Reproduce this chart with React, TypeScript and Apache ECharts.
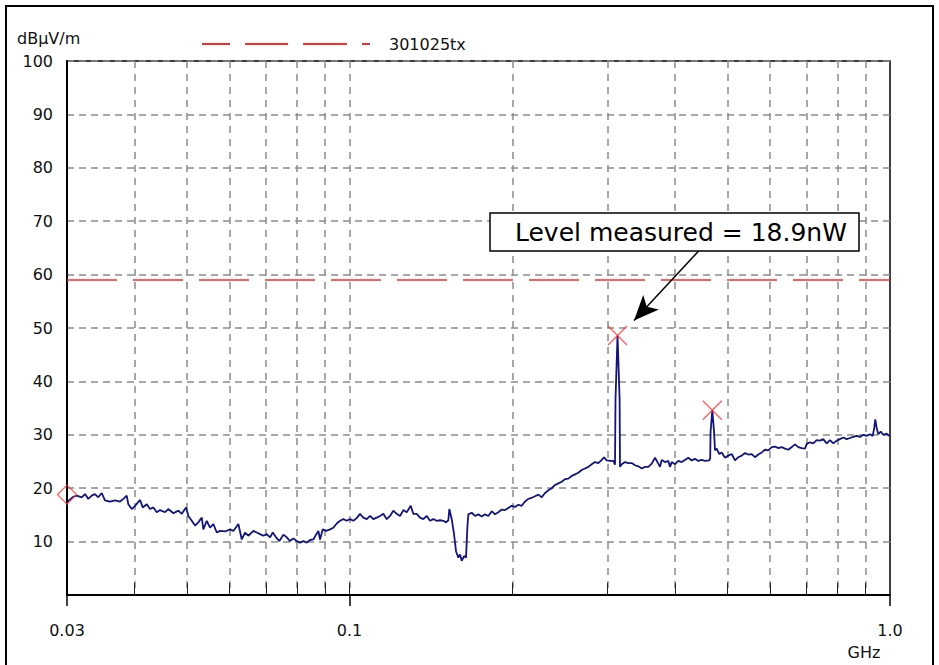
import React, { useEffect, useRef } from "react";
import * as echarts from "echarts";

// ---- data (frequency in GHz, level in dBµV/m) ----
const segAFreqs = [
  0.0300, 0.03082, 0.03127, 0.03194, 0.03239, 0.03285, 0.03333, 0.03380, 0.03428, 0.03478,
  0.03527, 0.03603, 0.03681, 0.03760, 0.03814, 0.03869, 0.03896, 0.03953, 0.04009, 0.04095,
  0.04143, 0.04214, 0.04274, 0.04334, 0.04397, 0.04460, 0.04556, 0.04620, 0.04720, 0.04821,
  0.04892, 0.04982, 0.05031, 0.05105, 0.05177, 0.05250, 0.05327, 0.05363, 0.05442, 0.05519,
  0.05597, 0.05679, 0.05759, 0.05883, 0.06010, 0.06095, 0.06226, 0.06317, 0.06406, 0.06497,
  0.06637, 0.06734, 0.06829, 0.06926, 0.07027, 0.07127, 0.07209, 0.07311, 0.07415, 0.07542,
  0.07652, 0.07760, 0.07870, 0.07985, 0.08098, 0.08213, 0.08333, 0.08450, 0.08570, 0.08669,
  0.08755, 0.08818, 0.08920, 0.09046, 0.09202, 0.09332, 0.09468, 0.09602, 0.09738, 0.09880,
];
const segALevels = [
  17.4, 18.4, 18.6, 18.3, 18.9, 18.0, 18.6, 18.9, 18.3, 19.1,
  17.7, 17.5, 17.7, 17.5, 18.0, 18.6, 17.0, 16.1, 16.7, 17.8,
  16.4, 17.0, 16.1, 16.4, 15.5, 15.9, 15.5, 16.1, 15.3, 15.8,
  15.2, 16.4, 14.8, 13.9, 13.0, 13.6, 14.5, 12.3, 13.9, 12.6,
  13.3, 11.7, 12.0, 11.9, 12.3, 12.0, 13.3, 10.4, 11.7, 11.1,
  12.0, 11.7, 11.4, 11.1, 11.4, 10.8, 11.7, 10.8, 10.1, 11.3,
  10.8, 10.1, 10.6, 10.1, 9.8, 10.1, 9.8, 10.3, 10.4, 11.3,
  12.0, 10.4, 12.3, 12.0, 12.3, 12.6, 13.4, 13.9, 14.2, 13.9,
];

const segBFreqs = [
  0.10020, 0.10162, 0.10310, 0.10456, 0.10604, 0.10759, 0.10911, 0.11065, 0.11227, 0.11386,
  0.11547, 0.11716, 0.11881, 0.12049, 0.12225, 0.12398, 0.12574, 0.12757, 0.12976, 0.13121,
  0.13312, 0.13501, 0.13692, 0.13892, 0.14089, 0.14288, 0.14497, 0.14702, 0.14910, 0.15082,
  0.15231, 0.15296, 0.15454, 0.15606, 0.15739, 0.15894, 0.16010, 0.16126, 0.16285, 0.16424,
  0.16516,
];
const segBLevels = [
  14.2, 13.9, 14.4, 15.2, 14.5, 14.2, 14.8, 14.2, 14.5, 14.8,
  15.2, 14.2, 14.8, 15.8, 15.2, 14.8, 15.9, 15.5, 16.7, 15.2,
  15.2, 14.5, 14.2, 14.8, 13.9, 14.2, 13.9, 14.0, 13.9, 13.6,
  14.0, 16.1, 14.2, 11.4, 8.2, 7.0, 7.6, 6.4, 7.3, 7.0,
  12.6,
];

const segCFreqs = [
  0.16586, 0.16828, 0.17066, 0.17307, 0.17560, 0.17809, 0.18061, 0.18324, 0.18584, 0.18847,
  0.19122, 0.19393, 0.19667, 0.19955, 0.20237, 0.20523, 0.20823, 0.21118, 0.21416, 0.21729,
  0.22037, 0.22349, 0.22675, 0.22996, 0.23321, 0.23662, 0.23997, 0.24336, 0.24692, 0.25041,
  0.25395, 0.25766, 0.26131, 0.26501, 0.26888, 0.27268, 0.27654, 0.28058, 0.28455, 0.28858,
  0.29279, 0.29569, 0.29910, 0.30334, 0.30764, 0.30987, 0.31050, 0.31319, 0.31600, 0.31650,
  0.31885, 0.32336, 0.32795, 0.33273, 0.33744, 0.34222, 0.34722, 0.35213, 0.35711, 0.36233,
  0.36745, 0.37264, 0.37535, 0.37808, 0.38344, 0.38886, 0.39169,
];
const segCLevels = [
  15.1, 15.4, 14.8, 15.1, 14.7, 15.1, 14.8, 15.7, 15.1, 15.5,
  16.0, 15.9, 16.3, 16.7, 16.5, 16.9, 16.7, 17.5, 18.0, 18.2,
  18.5, 18.8, 18.3, 19.1, 19.6, 20.0, 20.6, 20.9, 21.2, 21.7,
  21.8, 22.3, 22.6, 22.9, 23.4, 23.7, 24.0, 24.5, 24.9, 24.7,
  25.3, 25.8, 25.2, 25.1, 25.1, 24.4, 36.6, 48.6, 36.6, 24.0,
  24.5, 24.9, 24.7, 24.7, 24.3, 24.1, 23.7, 24.0, 24.0, 24.6,
  25.7, 24.6, 24.0, 25.3, 24.9, 25.1, 24.0,
];

const segDFreqs = [
  0.39454, 0.40012, 0.40577, 0.41170, 0.41753, 0.42344, 0.42962, 0.43570, 0.44187, 0.44831,
  0.45466, 0.46306, 0.46480, 0.46560, 0.46902, 0.47250, 0.47445, 0.47790, 0.48322, 0.48819,
  0.49508, 0.50209, 0.50942, 0.51664, 0.52395, 0.53159, 0.53913, 0.54676, 0.55474, 0.56259,
  0.57055, 0.57889, 0.58708, 0.59539, 0.60409, 0.61263, 0.62130, 0.63038, 0.63930, 0.64835,
  0.65781, 0.66712, 0.67656, 0.68644, 0.69615, 0.70120, 0.71113, 0.72119, 0.73171, 0.74207,
  0.75257, 0.76355, 0.77435, 0.78532, 0.79677, 0.80805, 0.81949, 0.83145, 0.84322, 0.85515,
  0.86763, 0.87992, 0.89238, 0.90540, 0.91822, 0.92884, 0.93519, 0.93918, 0.94480, 0.95128,
  0.96106, 0.97176, 0.98594, 0.99693, 1.0,
];
const segDLevels = [
  24.9, 24.5, 25.1, 24.9, 25.3, 25.7, 25.2, 25.5, 25.1, 25.3,
  25.1, 25.2, 25.6, 30.6, 34.6, 30.6, 27.1, 27.4, 26.4, 26.7,
  25.7, 26.1, 26.4, 25.2, 25.8, 26.1, 26.6, 26.3, 26.4, 25.8,
  26.3, 26.7, 27.2, 27.1, 27.7, 27.8, 27.5, 27.7, 27.4, 27.2,
  27.7, 28.2, 27.7, 27.5, 27.4, 28.3, 28.6, 28.4, 29.0, 28.9,
  29.2, 28.4, 29.0, 28.4, 28.9, 29.2, 29.5, 29.2, 29.4, 29.6,
  29.8, 29.6, 30.0, 29.8, 30.1, 29.8, 31.3, 32.9, 31.3, 30.1,
  30.6, 30.0, 30.2, 29.8, 30.0,
];

const limitName = "301025tx";
const limitFreqs = [0.03, 1.0];
const limitLevels = [59, 59];

const peakFreqs = [0.31319, 0.46902];
const peakLevels = [48.6, 34.6];

const startMarkerFreq = 0.03;
const startMarkerLevel = 18.8;

const arrowFrom = [0.4451, 64.7];
const arrowTo = [0.336, 51.4];

const annotationText = "Level measured = 18.9nW";
const yUnit = "dBµV/m";
const xUnit = "GHz";

const minorTickFreqs = [0.04, 0.05, 0.06, 0.07, 0.08, 0.09, 0.1, 0.2, 0.3, 0.4, 0.5, 0.6, 0.7, 0.8, 0.9];
const majorTickFreqs = [0.03, 0.1, 1.0];
const majorTickLabels = ["0.03", "0.1", "1.0"];

const FONT = "'DejaVu Sans', sans-serif";
// legend sample: a dashed red line drawn as a filled path (168 x 2)
const LEGEND_ICON = "path://M0,0H28V2H0Z M43,0H86V2H43Z M101,0H145V2H101Z M160,0H168V2H160Z";

function zip(a: number[], b: number[]) {
  const n = Math.min(a.length, b.length);
  const out: number[][] = [];
  for (let i = 0; i < n; i++) out.push([a[i], b[i]]);
  return out;
}

export default function App() {
  const ref = useRef<HTMLDivElement>(null);
  useEffect(() => {
    if (!ref.current) return;
    const chart = echarts.init(ref.current, undefined, { renderer: "svg" });
    const trace = [
      ...zip(segAFreqs, segALevels),
      ...zip(segBFreqs, segBLevels),
      ...zip(segCFreqs, segCLevels),
      ...zip(segDFreqs, segDLevels),
    ];
    const majorLabel = (v: number) => {
      let best = 0;
      let bd = Infinity;
      majorTickFreqs.forEach((f, i) => {
        const d = Math.abs(Math.log10(v) - Math.log10(f));
        if (d < bd) { bd = d; best = i; }
      });
      return majorTickLabels[best];
    };
    const option: any = {
      animation: false,
      backgroundColor: "#ffffff",
      grid: {
        left: 67, top: 61, width: 823, height: 534,
        show: true, borderColor: "#000", borderWidth: 1.5, backgroundColor: "transparent",
        containLabel: false,
      },
      legend: {
        data: [{ name: limitName, icon: LEGEND_ICON, itemStyle: { color: "#ff2a2a", borderWidth: 0 } }],
        left: 197, top: 31,
        itemWidth: 168, itemHeight: 2,
        selectedMode: false,
        textStyle: { fontFamily: FONT, fontSize: 16, color: "#111", padding: [0, 0, 0, 14] },
      },
      xAxis: [
        {
          type: "log", logBase: 10, min: 0.03, max: 1, position: "bottom",
          axisLine: { show: true, onZero: false, lineStyle: { color: "#000", width: 2 } },
          axisTick: { show: true, inside: true, length: 12, customValues: minorTickFreqs, lineStyle: { color: "#222", width: 1 } },
          axisLabel: { show: false },
          splitLine: { show: true, lineStyle: { color: "#8c8c8c", type: [7, 6], width: 1.5 } },
          minorTick: { show: false }, minorSplitLine: { show: false },
        },
        {
          type: "log", logBase: 10, min: 0.03, max: 1, position: "bottom", gridIndex: 0,
          axisLine: { show: false, onZero: false },
          axisTick: { show: true, inside: false, length: 11, customValues: majorTickFreqs, lineStyle: { color: "#000", width: 1.5 } },
          axisLabel: {
            show: true, customValues: majorTickFreqs, margin: 27,
            formatter: (v: number) => majorLabel(v),
            fontFamily: FONT, fontSize: 16, color: "#111",
          },
          splitLine: { show: false },
          minorTick: { show: false }, minorSplitLine: { show: false },
        },
      ],
      yAxis: {
        type: "value", min: 0, max: 100, interval: 10,
        axisLine: { show: true, onZero: false, lineStyle: { color: "#000", width: 2 } },
        axisTick: { show: false },
        axisLabel: {
          formatter: (v: number) => (v === 0 ? "" : String(v)),
          margin: 14, fontFamily: FONT, fontSize: 16, color: "#111",
        },
        splitLine: { show: true, lineStyle: { color: "#8c8c8c", type: [7, 5], width: 1.5 } },
      },
      series: [
        {
          name: "trace", type: "line", xAxisIndex: 0, data: trace,
          symbol: "none", showSymbol: false, clip: true, z: 3,
          lineStyle: { color: "#14147f", width: 1.8 },
          itemStyle: { color: "#14147f" },
        },
        {
          name: limitName, type: "line", xAxisIndex: 0, data: zip(limitFreqs, limitLevels),
          symbol: "none", showSymbol: false, z: 4,
          lineStyle: { color: "#ff2a2a", width: 1.5, type: [50, 16] },
          itemStyle: { color: "#ff2a2a" },
        },
        {
          name: "peaks", type: "scatter", xAxisIndex: 0, data: zip(peakFreqs, peakLevels),
          symbol: "path://M0,0L10,10M10,0L0,10", symbolSize: 19, clip: false, z: 5,
          itemStyle: { color: "transparent", borderColor: "#ff3535", borderWidth: 1.3 },
          markLine: {
            silent: true,
            symbol: ["none", "arrow"],
            symbolSize: [16, 25],
            label: { show: false },
            lineStyle: { color: "#000", width: 1.5, type: "solid" },
            data: [[{ coord: arrowFrom }, { coord: arrowTo }]],
          },
        },
        {
          name: "start", type: "scatter", xAxisIndex: 0,
          data: [[startMarkerFreq, startMarkerLevel]],
          symbol: "diamond", symbolSize: [19, 19], clip: false, z: 5,
          itemStyle: { color: "transparent", borderColor: "#ff3535", borderWidth: 1.3 },
        },
      ],
      graphic: [
        {
          type: "rect", silent: true, z: 100,
          shape: { x: 6, y: 6, width: 927, height: 700 },
          style: { fill: "none", stroke: "#000", lineWidth: 2 },
        },
        {
          type: "rect", silent: true, z: 101,
          shape: { x: 490, y: 213, width: 369, height: 38 },
          style: { fill: "#fff", stroke: "#000", lineWidth: 1.5 },
        },
        {
          type: "text", silent: true, z: 102, x: 515, y: 232,
          style: { text: annotationText, fontFamily: FONT, fontSize: 25, fill: "#000", verticalAlign: "middle", align: "left" },
        },
        {
          type: "text", silent: true, z: 102, x: 17, y: 38,
          style: { text: yUnit, fontFamily: FONT, fontSize: 16, fill: "#111", verticalAlign: "middle", align: "left" },
        },
        {
          type: "text", silent: true, z: 102, x: 864, y: 652,
          style: { text: xUnit, fontFamily: FONT, fontSize: 16, fill: "#111", verticalAlign: "middle", align: "center" },
        },
      ],
    };
    chart.setOption(option);
    return () => chart.dispose();
  }, []);
  return (
    <div
      ref={ref}
      style={{ position: "fixed", left: 0, top: 0, width: 939, height: 665, background: "#fff" }}
    />
  );
}
